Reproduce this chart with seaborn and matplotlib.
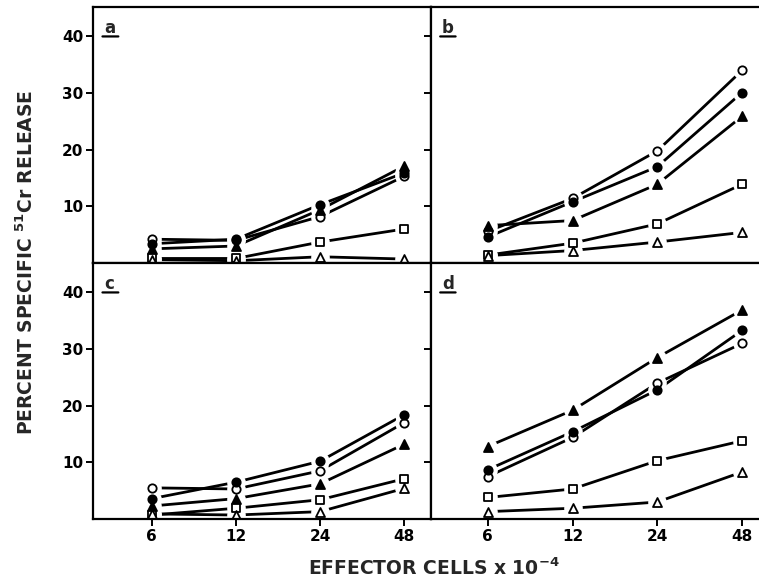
import matplotlib
matplotlib.use("Agg")
import numpy as np
import pandas as pd
import seaborn as sns
import matplotlib.pyplot as plt
from matplotlib.ticker import FixedLocator, NullLocator, FixedFormatter

# Effector cell numbers (x 10^-4)
doses = [6, 12, 24, 48]
dose_labels = ["6", "12", "24", "48"]
y_ticks = [10, 20, 30, 40]

# Percent specific 51Cr release, one list per target group and panel
a_open_circle = [4.2, 4.0, 8.2, 15.3]
a_filled_circle = [3.4, 4.2, 10.3, 15.9]
a_filled_triangle = [2.5, 3.0, 9.4, 17.1]
a_open_square = [0.8, 0.8, 3.7, 6.0]
a_open_triangle = [0.6, 0.4, 1.1, 0.7]

b_open_circle = [5.6, 11.4, 19.8, 34.0]
b_filled_circle = [4.6, 10.8, 17.0, 30.1]
b_filled_triangle = [6.6, 7.5, 13.9, 25.9]
b_open_square = [1.4, 3.5, 6.9, 13.9]
b_open_triangle = [1.3, 2.2, 3.7, 5.4]

c_open_circle = [5.5, 5.3, 8.5, 17.0]
c_filled_circle = [3.6, 6.5, 10.2, 18.4]
c_filled_triangle = [2.3, 3.6, 6.2, 13.2]
c_open_square = [0.7, 1.9, 3.4, 7.1]
c_open_triangle = [0.9, 0.7, 1.3, 5.4]

d_open_circle = [7.5, 14.4, 24.0, 31.0]
d_filled_circle = [8.7, 15.4, 22.8, 33.3]
d_filled_triangle = [12.8, 19.2, 28.5, 36.9]
d_open_square = [3.8, 5.3, 10.3, 13.8]
d_open_triangle = [1.3, 1.9, 3.0, 8.3]

panels = {
    "a": [a_open_circle, a_filled_circle, a_filled_triangle, a_open_square, a_open_triangle],
    "b": [b_open_circle, b_filled_circle, b_filled_triangle, b_open_square, b_open_triangle],
    "c": [c_open_circle, c_filled_circle, c_filled_triangle, c_open_square, c_open_triangle],
    "d": [d_open_circle, d_filled_circle, d_filled_triangle, d_open_square, d_open_triangle],
}
groups = ["open_circle", "filled_circle", "filled_triangle", "open_square", "open_triangle"]
# marker, face colour, size
styles = {
    "open_circle": ("o", "white", 36),
    "filled_circle": ("o", "black", 36),
    "filled_triangle": ("^", "black", 42),
    "open_square": ("s", "white", 28),
    "open_triangle": ("^", "white", 42),
}

rows = []
for panel, series in panels.items():
    for g, vals in zip(groups, series):
        for d, v in zip(doses, vals):
            rows.append({"panel": panel, "group": g, "dose": d, "release": v})
df = pd.DataFrame(rows)

sns.set_theme(style="ticks")
plt.rcParams["font.family"] = ["DejaVu Sans"]
plt.rcParams["font.weight"] = "bold"
plt.rcParams["mathtext.default"] = "regular"

fig = plt.figure(figsize=(7.59, 5.86), dpi=100)
gs = fig.add_gridspec(2, 2, left=93 / 759, right=1.0, top=1 - 7 / 586, bottom=1 - 519 / 586,
                      wspace=0, hspace=0, width_ratios=[338, 328])

xlims = [(6 * 2 ** -0.70, 48 * 2 ** 0.32), (6 * 2 ** -0.67, 48 * 2 ** 0.20)]

for i, panel in enumerate(["a", "b", "c", "d"]):
    r, c = divmod(i, 2)
    ax = fig.add_subplot(gs[r, c])
    ax.set_xscale("log", base=2)
    sub = df[df["panel"] == panel]

    sns.lineplot(data=sub, x="dose", y="release", units="group", estimator=None,
                 color="black", linewidth=2.0, ax=ax, legend=False)
    for ln in ax.get_lines():
        ln.set_zorder(1.5)
    # white discs behind the symbols, so the connecting lines stop short of them
    sns.scatterplot(data=sub, x="dose", y="release", marker="o", s=180,
                    facecolor="white", edgecolor="white", linewidth=0,
                    ax=ax, legend=False)
    for g in groups:
        m, face, size = styles[g]
        sns.scatterplot(data=sub[sub["group"] == g], x="dose", y="release", marker=m,
                        color=face, edgecolor="black", linewidth=1.3, s=size,
                        ax=ax, legend=False)
    for k, coll in enumerate(ax.collections):
        coll.set_zorder(3 if k == 0 else 4)

    ax.set_xlim(*xlims[c])
    ax.set_ylim(0, 45.2)
    ax.xaxis.set_major_locator(FixedLocator(doses))
    ax.xaxis.set_minor_locator(NullLocator())
    ax.xaxis.set_major_formatter(FixedFormatter(dose_labels))
    ax.set_yticks(y_ticks)
    ax.tick_params(direction="out", length=5, width=1.4, labelsize=11, pad=2, colors="black")
    if r == 0:
        ax.tick_params(labelbottom=False)
    if c == 1:
        ax.tick_params(labelleft=False)
        ax.spines["right"].set_visible(False)
    for s in ax.spines.values():
        s.set_linewidth(1.6)
        s.set_color("black")
        s.set_zorder(5)
    ax.set_xlabel("")
    ax.set_ylabel("")
    # underlined panel letter
    ax.text(0.033, 0.955, panel, transform=ax.transAxes, ha="left", va="top",
            fontsize=12, fontweight="bold")
    ax.annotate("", xy=(0.028, 0.885), xytext=(0.075, 0.885), xycoords="axes fraction",
                arrowprops=dict(arrowstyle="-", lw=1.6, color="black", shrinkA=0, shrinkB=0))

fig.text(0.572, 0.012, r"EFFECTOR CELLS x 10$^{-4}$", ha="center", va="bottom", fontsize=13.5)
fig.text(0.034, 1 - 262 / 586, r"PERCENT SPECIFIC $^{51}$Cr RELEASE", rotation=90,
         ha="center", va="center", fontsize=13.5)

fig.savefig("out.png", dpi=100)
